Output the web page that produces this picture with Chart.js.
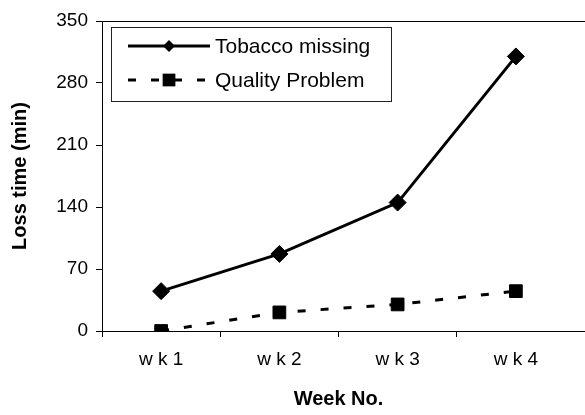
<!DOCTYPE html>
<html>
<head>
<meta charset="utf-8">
<script src="https://cdn.jsdelivr.net/npm/chart.js@4/dist/chart.umd.min.js"></script>
<style>
  html, body { margin: 0; padding: 0; background: #fff; }
  #box { width: 585px; height: 415px; }
</style>
</head>
<body>
<div id="box"><canvas id="graph-box"></canvas></div>
<script>
// data
const weeks = ['w k 1', 'w k 2', 'w k 3', 'w k 4'];
const tobaccoMissing = [45, 87, 145, 310];
const qualityProblem = [0, 21, 30, 45];
const yTicks = [0, 70, 140, 210, 280, 350];

Chart.defaults.font.family = "'Liberation Sans', Arial, sans-serif";
Chart.defaults.color = '#000';

const ctx = document.getElementById('graph-box');

// frame lines + legend box drawn inside the plot, like the excel one
const framePlugin = {
  id: 'frame',
  afterDraw(chart) {
    const c = chart.ctx;
    const a = chart.chartArea;
    const W = chart.width;
    c.save();
    c.strokeStyle = '#000';
    c.lineWidth = 1;
    c.beginPath();
    c.moveTo(a.left, a.top + 0.5);
    c.lineTo(W, a.top + 0.5);
    c.moveTo(a.right, a.bottom + 0.5);
    c.lineTo(W, a.bottom + 0.5);
    c.stroke();

    // legend
    const bx = a.left + 9, by = a.top + 6, bw = 280, bh = 74;
    c.fillStyle = '#fff';
    c.fillRect(bx, by, bw, bh);
    c.strokeStyle = '#222';
    c.strokeRect(bx + 0.5, by + 0.5, bw, bh);
    c.font = "21px 'Liberation Sans', Arial, sans-serif";
    c.textBaseline = 'middle';
    c.textAlign = 'left';
    chart.data.datasets.forEach((ds, i) => {
      const y = by + 19 + i * 34;
      const x0 = bx + 17, x1 = bx + 99, xm = (x0 + x1) / 2;
      c.strokeStyle = '#000';
      c.lineWidth = ds.borderWidth;
      c.setLineDash(ds.borderDash || []);
      c.beginPath();
      c.moveTo(x0, y);
      c.lineTo(x1, y);
      c.stroke();
      c.setLineDash([]);
      c.fillStyle = '#000';
      c.beginPath();
      const s = Math.SQRT1_2 * ds.pointRadius;
      if (ds.pointStyle === 'rectRot') {
        c.moveTo(xm - s, y);
        c.lineTo(xm, y + s);
        c.lineTo(xm + s, y);
        c.lineTo(xm, y - s);
        c.closePath();
      } else {
        c.rect(xm - s, y - s, 2 * s, 2 * s);
      }
      c.fill();
      c.fillText(ds.label, x1 + 5, y + 1);
    });
    c.restore();
  }
};

// no tick mark on the right end of the x axis
const hideLast = (c) => c.tick ? '#000' : 'rgba(0,0,0,0)';

const myChart = new Chart(ctx, {
  type: 'line',
  data: {
    labels: weeks,
    datasets: [
      {
        label: 'Tobacco missing',
        data: tobaccoMissing,
        borderColor: '#000',
        backgroundColor: '#000',
        borderWidth: 3,
        pointStyle: 'rectRot',
        pointRadius: 8.5,
        pointBackgroundColor: '#000',
        pointBorderColor: '#000',
        pointBorderWidth: 1,
        tension: 0
      },
      {
        label: 'Quality Problem',
        data: qualityProblem,
        borderColor: '#000',
        backgroundColor: '#000',
        borderWidth: 3,
        borderDash: [8, 15],
        pointStyle: 'rect',
        pointRadius: 9,
        pointBackgroundColor: '#000',
        pointBorderColor: '#000',
        pointBorderWidth: 1,
        tension: 0
      }
    ]
  },
  options: {
    responsive: true,
    maintainAspectRatio: false,
    animation: false,
    layout: { padding: { left: 8, right: 8, top: 21, bottom: 4 } },
    plugins: {
      legend: { display: false },
      tooltip: { enabled: false }
    },
    scales: {
      x: {
        offset: true,
        grid: {
          offset: true,
          drawOnChartArea: false,
          drawTicks: true,
          tickLength: 6,
          color: hideLast,
          tickColor: hideLast
        },
        border: { display: true, color: '#000', width: 1 },
        ticks: { padding: 11, font: { size: 19 } },
        title: {
          display: true,
          text: 'Week No.',
          font: { size: 20, weight: 'bold' },
          padding: { top: 0, bottom: 0 }
        },
        afterFit: (scale) => { scale.height = 80; }
      },
      y: {
        min: 0,
        max: 350,
        afterBuildTicks: (scale) => { scale.ticks = yTicks.map(v => ({ value: v })); },
        grid: {
          drawOnChartArea: false,
          drawTicks: true,
          tickLength: 6,
          color: '#000'
        },
        border: { display: true, color: '#000', width: 1 },
        ticks: { padding: 8, font: { size: 19 } },
        title: {
          display: true,
          text: 'Loss time (min)',
          font: { size: 20, weight: 'bold' },
          padding: { top: 0, bottom: 0 }
        },
        afterFit: (scale) => { scale.width = 94; }
      }
    }
  },
  plugins: [framePlugin]
});
</script>
</body>
</html>
